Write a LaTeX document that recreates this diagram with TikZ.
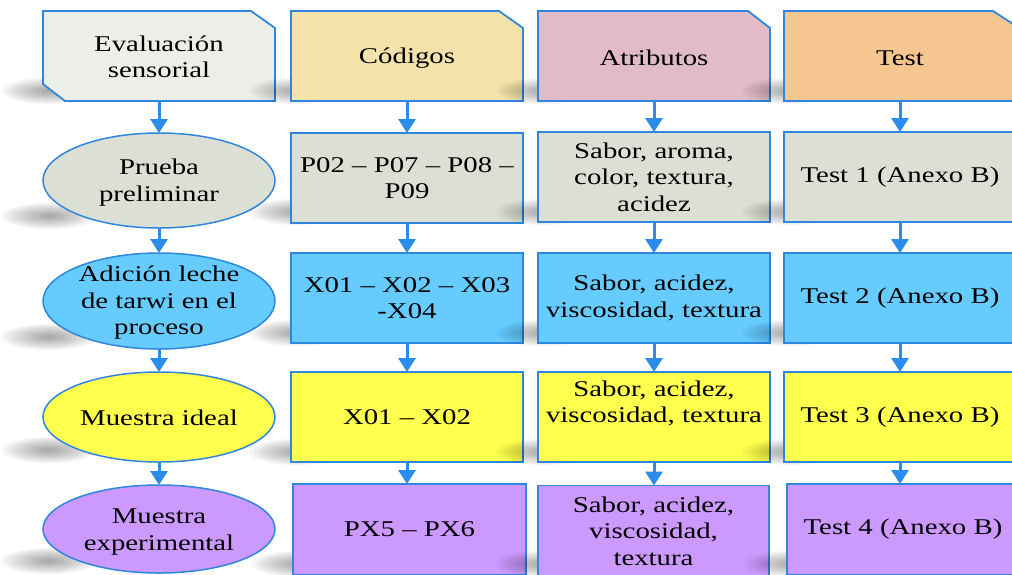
\documentclass[tikz,border=0pt]{standalone}
\usepackage{fontspec}
\setmainfont{Liberation Serif}[FakeStretch=1.28]
\usetikzlibrary{shapes.geometric, arrows.meta, calc}

\definecolor{edge}{HTML}{2F86DD}
\definecolor{arrowblue}{HTML}{2B8CEB}
\definecolor{hdrA}{HTML}{ECEEE8}
\definecolor{hdrB}{HTML}{F3E2A9}
\definecolor{hdrC}{HTML}{E1BCC8}
\definecolor{hdrD}{HTML}{F6C690}
\definecolor{rowgrey}{HTML}{DCE0D4}
\definecolor{rowblue}{HTML}{66CCFF}
\definecolor{rowyellow}{HTML}{FFFF4D}
\definecolor{rowviolet}{HTML}{CC99FF}

\begin{document}
\begin{tikzpicture}[x=1pt, y=-1pt,
  frame/.style={rectangle, minimum width=232pt, minimum height=90pt,
    inner sep=0pt, outer sep=0pt},
  box/.style={frame, draw=edge, line width=1.8pt, align=center,
    font=\fontsize{22.5}{26.5}\selectfont},
  oval/.style={ellipse, draw=edge, line width=1.5pt, minimum width=232pt,
    inner sep=0pt, outer sep=0pt},
  txt/.style={align=center, inner sep=0pt, font=\fontsize{22.5}{26.5}\selectfont},
  hdrline/.style={draw=edge, line width=1.8pt, line join=miter},
  flow/.style={draw=arrowblue, line width=3pt,
    -{Triangle[width=17pt,length=14pt]}},
  haze/.style={fill=black, opacity=0.033},
]
\useasboundingbox (0,0) rectangle (1012,574);
\clip (0,0) rectangle (1012,574);
\fill[white] (0,0) rectangle (1012,574);

% soft ground shadow at the lower left of a shape: stacked translucent ellipses
\newcommand{\groundshadow}[2]{%
  \foreach \k in {1,...,12} {\fill[haze] (#1+6,#2-10) ellipse ({4*\k pt} and {1.1*\k pt});}}

% ---------- header row ----------
\node[frame] (h1) at (159,56) {};
\node[frame] (h2) at (407,56) {};
\node[frame] (h3) at (654,56) {};
\node[frame] (h4) at (900,56) {};

\groundshadow{43}{101}
\path[hdrline, fill=hdrA] (h1.north west) -- ([xshift=-24pt]h1.north east)
  -- ([yshift=-17pt]h1.north east) -- (h1.south east)
  -- ([xshift=22pt]h1.south west) -- ([yshift=17pt]h1.south west) -- cycle;
\groundshadow{291}{101}
\path[hdrline, fill=hdrB] (h2.north west) -- ([xshift=-24pt]h2.north east)
  -- ([yshift=-17pt]h2.north east) -- (h2.south east) -- (h2.south west) -- cycle;
\groundshadow{539}{101}
\path[hdrline, fill=hdrC] (h3.north west) -- ([xshift=-22pt]h3.north east)
  -- ([yshift=-17pt]h3.north east) -- (h3.south east) -- (h3.south west) -- cycle;
\groundshadow{784}{101}
\path[hdrline, fill=hdrD] (h4.north west) -- ([xshift=-23pt]h4.north east)
  -- ([yshift=-15pt]h4.north east) -- (h4.south east) -- (h4.south west) -- cycle;

% ---------- row 2 ----------
\groundshadow{43}{226}
\node[oval, fill=rowgrey, minimum height=95pt] (e2) at (159,180.5) {};
\groundshadow{291}{222}
\node[box, fill=rowgrey] (c2) at (407,178) {P02 -- P07 -- P08 --\\P09};
\groundshadow{538}{222}
\node[box, fill=rowgrey] (a2) at (654,177) {Sabor, aroma,\\color, textura,\\acidez};
\groundshadow{784}{222}
\node[box, fill=rowgrey] (t2) at (900,177) {Test 1 (Anexo B)};

% ---------- row 3 ----------
\groundshadow{43}{347}
\node[oval, fill=rowblue, minimum height=96pt] (e3) at (159,301) {};
\groundshadow{291}{343}
\node[box, fill=rowblue] (c3) at (407,298) {X01 -- X02 -- X03\\-X04};
\groundshadow{538}{343}
\node[box, fill=rowblue] (a3) at (654,298) {Sabor, acidez,\\viscosidad, textura};
\groundshadow{784}{343}
\node[box, fill=rowblue] (t3) at (900,298) {Test 2 (Anexo B)};

% ---------- row 4 ----------
\groundshadow{43}{460}
\node[oval, fill=rowyellow, minimum height=90pt] (e4) at (159,417) {};
\groundshadow{291}{462}
\node[box, fill=rowyellow] (c4) at (407,417) {X01 -- X02};
\groundshadow{538}{462}
\node[box, fill=rowyellow] (a4) at (654,417) {};
\groundshadow{784}{462}
\node[box, fill=rowyellow] (t4) at (900,417) {Test 3 (Anexo B)};

% ---------- row 5 ----------
\groundshadow{43}{571}
\node[oval, fill=rowviolet, minimum height=88pt] (e5) at (159,529) {};
\groundshadow{293}{574}
\node[box, fill=rowviolet, minimum width=233pt, minimum height=91pt] (c5) at (409.5,529.5) {PX5 -- PX6};
\groundshadow{538}{574}
\node[box, fill=rowviolet, minimum width=231pt, minimum height=91pt] (a5) at (653.5,531) {Sabor, acidez,\\viscosidad,\\textura};
\groundshadow{787}{574}
\node[box, fill=rowviolet, minimum height=91pt] (t5) at (903,529.5) {Test 4 (Anexo B)};

% ---------- texts laid over the shapes ----------
\node[txt] (h1t) at (159,57) {Evaluación\\sensorial};
\node[txt] (h2t) at (407,58) {Códigos};
\node[txt] (h3t) at (654,58) {Atributos};
\node[txt] (h4t) at (900,58) {Test};
\node[txt] (e2t) at (159,182.5) {Prueba\\preliminar};
\node[txt] (e3t) at (159,303) {Adición leche\\de tarwi en el\\proceso};
\node[txt] (e4t) at (159,418) {Muestra ideal};
\node[txt] (e5t) at (159,532) {Muestra\\experimental};
\node[txt] (a4t) at (654,403.5) {Sabor, acidez,\\viscosidad, textura};

% ---------- flow arrows ----------
\draw[flow] (h1.south) -- (e2.north);
\draw[flow] (e2.south) -- (e3.north);
\draw[flow] (e3.south) -- (e4.north);
\draw[flow] (e4.south) -- (e5.north);

\draw[flow] (h2.south) -- (c2.north);
\draw[flow] (c2.south) -- (c3.north);
\draw[flow] (c3.south) -- (c4.north);
\draw[flow] (c4.south) -- (c4.south |- c5.north);

\draw[flow] (h3.south) -- (a2.north);
\draw[flow] (a2.south) -- (a3.north);
\draw[flow] (a3.south) -- (a4.north);
\draw[flow] (a4.south) -- (a4.south |- a5.north);

\draw[flow] (h4.south) -- (t2.north);
\draw[flow] (t2.south) -- (t3.north);
\draw[flow] (t3.south) -- (t4.north);
\draw[flow] (t4.south) -- (t4.south |- t5.north);
\end{tikzpicture}
\end{document}
